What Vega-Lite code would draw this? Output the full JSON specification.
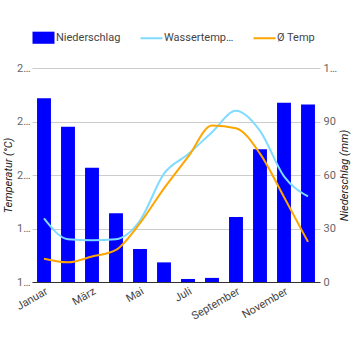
{
  "$schema": "https://vega.github.io/schema/vega-lite/v6.json",
  "width": 288,
  "height": 214,
  "autosize": {"type": "none"},
  "padding": {"left": 32, "top": 68, "right": 33, "bottom": 68},
  "config": {
    "font": "Roboto",
    "view": {"stroke": null},
    "axis": {
      "labelFont": "Roboto",
      "labelFontSize": 11,
      "labelColor": "#666",
      "titleFont": "Roboto",
      "titleFontSize": 11,
      "titleFontStyle": "italic",
      "titleFontWeight": "normal",
      "titleColor": "#222"
    }
  },
  "data": {
    "values": [
      {"Monat": "Januar", "Niederschlag": 103, "Wassertemperatur": 16.75, "Ø Temp": 13.74},
      {"Monat": "Februar", "Niederschlag": 87, "Wassertemperatur": 15.2, "Ø Temp": 13.47},
      {"Monat": "März", "Niederschlag": 64, "Wassertemperatur": 15.13, "Ø Temp": 13.9},
      {"Monat": "April", "Niederschlag": 38.5, "Wassertemperatur": 15.2, "Ø Temp": 14.4},
      {"Monat": "Mai", "Niederschlag": 18.5, "Wassertemperatur": 16.6, "Ø Temp": 16.4},
      {"Monat": "Juni", "Niederschlag": 11, "Wassertemperatur": 20.1, "Ø Temp": 19.0},
      {"Monat": "Juli", "Niederschlag": 1.7, "Wassertemperatur": 21.55, "Ø Temp": 21.35},
      {"Monat": "August", "Niederschlag": 2.3, "Wassertemperatur": 23.2, "Ø Temp": 23.7},
      {"Monat": "September", "Niederschlag": 36.5, "Wassertemperatur": 24.8, "Ø Temp": 23.5},
      {"Monat": "Oktober", "Niederschlag": 74.5, "Wassertemperatur": 23.3, "Ø Temp": 21.6},
      {"Monat": "November", "Niederschlag": 100.5, "Wassertemperatur": 19.9, "Ø Temp": 18.35},
      {"Monat": "Dezember", "Niederschlag": 99.5, "Wassertemperatur": 18.4, "Ø Temp": 15.0}
    ]
  },
  "layer": [
    {
      "mark": {"type": "bar", "color": "#0000ff"},
      "encoding": {
        "x": {
          "field": "Monat",
          "type": "nominal",
          "sort": null,
          "scale": {"paddingInner": 0.42, "paddingOuter": 0.21},
          "axis": {
            "title": null,
            "values": ["Januar", "März", "Mai", "Juli", "September", "November"],
            "labelAngle": -30,
            "ticks": false,
            "domainColor": "#333",
            "labelPadding": 3,
            "labelColor": "#444",
            "zindex": 1
          }
        },
        "y": {
          "field": "Niederschlag",
          "type": "quantitative",
          "scale": {"domain": [0, 120]},
          "axis": {
            "orient": "right",
            "values": [0, 30, 60, 90, 120],
            "labelExpr": "datum.value >= 100 ? '1…' : datum.label",
            "title": "Niederschlag (mm)",
            "titleAngle": -90,
            "grid": true,
            "gridColor": "#ccc",
            "domain": false,
            "ticks": false,
            "labelPadding": 3,
            "titlePadding": 13
          }
        },
        "color": {
          "datum": "Niederschlag",
          "type": "nominal",
          "title": null,
          "scale": {
            "domain": ["Niederschlag", "Wassertemperatur", "Ø Temp"],
            "range": ["#0000ff", "#7fdbff", "#ffa500"]
          },
          "legend": {
            "orient": "none",
            "legendX": 6,
            "legendY": -36,
            "direction": "horizontal",
            "title": null,
            "labelFont": "Roboto",
            "labelFontSize": 11,
            "labelColor": "#444",
            "symbolSize": 484,
            "labelOffset": 7,
            "columnPadding": 15,
            "labelLimit": 70,
            "encode": {
              "symbols": {
                "update": {
                  "shape": {"signal": "datum.value === 'Niederschlag' ? 'M-1,-0.55H1V0.55H-1Z' : 'M-1,0H1'"},
                  "fill": {"signal": "datum.value === 'Niederschlag' ? '#0000ff' : 'transparent'"},
                  "stroke": {"signal": "datum.value === 'Niederschlag' ? '#0000ff' : (datum.value === 'Ø Temp' ? '#ffa500' : '#7fdbff')"},
                  "strokeWidth": {"signal": "datum.value === 'Niederschlag' ? 0 : 2"},
                  "opacity": {"value": 1}
                }
              }
            }
          }
        }
      }
    },
    {
      "transform": [{"fold": ["Wassertemperatur", "Ø Temp"], "as": ["Serie", "Wert"]}],
      "mark": {"type": "line", "interpolate": "monotone", "strokeWidth": 2},
      "encoding": {
        "x": {"field": "Monat", "type": "nominal", "sort": null},
        "y": {
          "field": "Wert",
          "type": "quantitative",
          "scale": {"domain": [12, 28]},
          "axis": {
            "orient": "left",
            "values": [12, 16, 20, 24, 28],
            "labelExpr": "slice(datum.label, 0, 1) + '…'",
            "title": "Temperatur (°C)",
            "grid": false,
            "domain": false,
            "ticks": false,
            "labelPadding": 2,
            "titlePadding": 3
          }
        },
        "color": {"field": "Serie", "type": "nominal", "title": null}
      }
    }
  ],
  "resolve": {"scale": {"y": "independent"}}
}
